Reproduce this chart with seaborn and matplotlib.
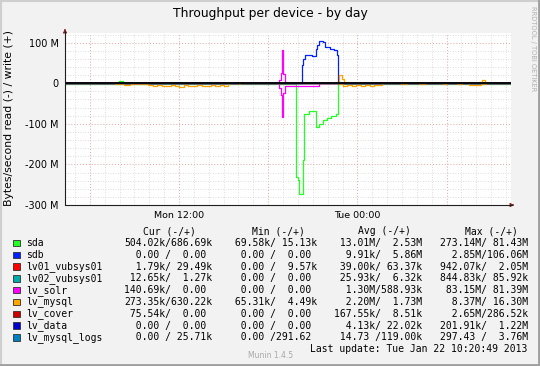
import numpy as np
import pandas as pd
import matplotlib
matplotlib.use("Agg")
import matplotlib.pyplot as plt
import seaborn as sns
from matplotlib.lines import Line2D
from matplotlib.patches import Rectangle

sns.set_theme(style="white")
plt.rcParams["font.family"] = ["DejaVu Sans"]

W, H = 540, 366

TITLE = "Throughput per device - by day"
YLABEL = "Bytes/second read (-) / write (+)"
XTICK_HOURS = [1.667, 7.667, 13.667, 19.667, 25.667]
XTICK_LABELS = ["", "Mon 12:00", "", "Tue 00:00", ""]
YTICKS = [100, 0, -100, -200, -300]
YTICK_LABELS = ["100 M", "0", "-100 M", "-200 M", "-300 M"]

names = ["sda", "sdb", "lv01_vubsys01", "lv02_vubsys01", "lv_solr",
         "lv_mysql", "lv_cover", "lv_data", "lv_mysql_logs"]
colors = ["#22ff22", "#0022ff", "#ff0000", "#00aaaa", "#ff00ff",
          "#ffa500", "#cc0000", "#0000cc", "#0080c0"]

# breakpoints: hours since Mon 04:20, values in MB/s (read negative, write positive)
sda_read_t = [0, 15.55, 15.68, 15.77, 15.99, 16.06, 16.44, 16.89, 17.07, 17.34, 17.6, 17.9, 18.23, 18.34, 30]
sda_read_v = [-1.2, -231, -238, -273, -190, -75, -68, -108, -100, -90, -86, -80, -76, -1.2, -1.2]
sda_write_t = [0, 3.6, 3.9, 30]
sda_write_v = [-0.6, 6, -0.6, -0.6]
sdb_read_t = [0, 30]
sdb_read_v = [0, 0]
sdb_write_t = [0, 15.95, 16.02, 16.17, 16.6, 16.89, 16.95, 17.11, 17.34, 17.5, 17.8, 18.1, 18.27, 18.37, 30]
sdb_write_v = [0, 45, 60, 69, 66, 84, 95, 105, 101, 90, 85, 81, 70, 0, 0]
lv01_t = [0, 30]
lv01_v = [0, 0]
lv02_t = [0, 30]
lv02_v = [0, 0]
solr_write_t = [0, 14.4, 14.5, 14.6, 14.68, 14.8, 30]
solr_write_v = [0, 8, 25, 81, 22, 0, 0]
solr_read_t = [0, 14.4, 14.5, 14.6, 14.68, 14.8, 17.1, 30]
solr_read_v = [0, -12, -30, -83, -25, -6, 0, 0]
mysql_read_t = [0, 3.35, 3.7, 4.0, 4.4, 4.8, 5.2, 5.55, 5.9, 6.2, 6.5, 6.8, 7.1, 7.4, 7.7,
                8.0, 8.3, 8.6, 8.9, 9.2, 9.5, 9.8, 10.1, 10.4, 10.7, 10.95, 11.7, 11.8,
                18.4, 18.7, 19.0, 19.3, 19.6, 19.9, 20.2, 20.5, 20.8, 21.1, 21.35, 22.6,
                23.0, 23.8, 24.2, 25.4, 25.7, 26.4, 26.7, 27.2, 27.6, 28.0, 28.3, 30]
mysql_read_v = [-0.3, -3, -2, -4, -2.5, -3, -2, -5, -7, -4, -6, -8, -5, -6, -9,
                -5, -7, -6, -4, -8, -6, -5, -7, -4, -6, -0.3, -3, -0.3,
                -2, -6, -4, -7, -5, -6, -4, -7, -5, -4, -0.5, -3,
                -0.5, -3, -0.5, -3, -0.5, -3, -0.5, -4, -5, -3, -0.5, -0.5]
mysql_write_t = [0, 18.45, 18.6, 18.75, 18.9, 27.9, 28.05, 28.25, 30]
mysql_write_v = [0.3, 20, 10, 4, 0.3, 4, 8, 0.3, 0.3]
cover_t = [0, 30]
cover_v = [0, 0]
data_t = [0, 30]
data_v = [0, 0]
logs_t = [0, 30]
logs_v = [0, 0]

legend_cur = ["504.02k/686.69k", "  0.00 /  0.00 ", "  1.79k/ 29.49k", " 12.65k/  1.27k",
              "140.69k/  0.00 ", "273.35k/630.22k", " 75.54k/  0.00 ", "  0.00 /  0.00 ",
              "  0.00 / 25.71k"]
legend_min = [" 69.58k/ 15.13k", "  0.00 /  0.00 ", "  0.00 /  9.57k", "  0.00 /  0.00 ",
              "  0.00 /  0.00 ", " 65.31k/  4.49k", "  0.00 /  0.00 ", "  0.00 /  0.00 ",
              "  0.00 /291.62 "]
legend_avg = [" 13.01M/  2.53M", "  9.91k/  5.86M", " 39.00k/ 63.37k", " 25.93k/  6.32k",
              "  1.30M/588.93k", "  2.20M/  1.73M", "167.55k/  8.51k", "  4.13k/ 22.02k",
              " 14.73 /119.00k"]
legend_max = ["273.14M/ 81.43M", "  2.85M/106.06M", "942.07k/  2.05M", "844.83k/ 85.92k",
              " 83.15M/ 81.39M", "  8.37M/ 16.30M", "  2.65M/286.52k", "201.91k/  1.22M",
              "297.43 /  3.76M"]
headers = ["Cur (-/+)", "Min (-/+)", "Avg (-/+)", "Max (-/+)"]
LAST_UPDATE = "Last update: Tue Jan 22 10:20:49 2013"

# ---- build long data frame ----
series = [
    ("sda", "r", sda_read_t, sda_read_v), ("sda", "w", sda_write_t, sda_write_v),
    ("sdb", "r", sdb_read_t, sdb_read_v), ("sdb", "w", sdb_write_t, sdb_write_v),
    ("lv01_vubsys01", "r", lv01_t, lv01_v), ("lv02_vubsys01", "r", lv02_t, lv02_v),
    ("lv_solr", "r", solr_read_t, solr_read_v), ("lv_solr", "w", solr_write_t, solr_write_v),
    ("lv_mysql", "r", mysql_read_t, mysql_read_v), ("lv_mysql", "w", mysql_write_t, mysql_write_v),
    ("lv_cover", "r", cover_t, cover_v), ("lv_data", "r", data_t, data_v),
    ("lv_mysql_logs", "r", logs_t, logs_v),
]
rows = []
keys = []
pal = {}
cmap = dict(zip(names, colors))
for nm, part, ts, vs in series:
    assert len(ts) == len(vs), nm
    key = nm + "_" + part
    keys.append(key)
    pal[key] = cmap[nm]
    for t, v in zip(ts, vs):
        rows.append((t, v, key))
df = pd.DataFrame(rows, columns=["hours", "value", "key"])

fig = plt.figure(figsize=(W / 100, H / 100), dpi=100, facecolor="#f2f2f2")

def px(x, y):
    return x / W, 1 - y / H

L, R, T, B = 65, 511, 32.5, 205
ax = fig.add_axes([L / W, 1 - B / H, (R - L) / W, (B - T) / H])
ax.set_facecolor("white")

sns.lineplot(data=df, x="hours", y="value", hue="key", hue_order=keys, palette=pal,
             drawstyle="steps-post", estimator=None, sort=False, legend=False,
             linewidth=0.9, ax=ax)
ax.axhline(0, color="black", lw=1.3, zorder=3)

ax.set_xlim(0, 30)
ax.set_ylim(-300, 125)
ax.set_xticks(XTICK_HOURS)
ax.set_xticklabels(XTICK_LABELS)
ax.set_xticks([0.667 + k for k in range(30)], minor=True)
ax.set_yticks(YTICKS)
ax.set_yticklabels(YTICK_LABELS)
ax.set_yticks(list(range(-300, 121, 20)), minor=True)
ax.grid(which="minor", ls=(0, (1, 2)), color="#d2d2d2", lw=0.6)
ax.grid(which="major", ls=(0, (1, 2)), color="#e2a4a4", lw=0.7)
ax.tick_params(axis="both", which="both", length=0, colors="black")
ax.tick_params(axis="y", labelsize=7, pad=4.5)
ax.tick_params(axis="x", labelsize=6.8, pad=4)
ax.set_xlabel("")
ax.set_ylabel("")
for s in ax.spines.values():
    s.set_visible(False)

# axes with arrows
axis_col = "#1f1f1f"
fig.add_artist(Line2D([L / W, 512 / W], [1 - B / H, 1 - B / H], color=axis_col, lw=0.8))
fig.add_artist(Line2D([L / W, L / W], [1 - B / H, 1 - 31 / H], color=axis_col, lw=0.8))
ax.annotate("", xy=(517 / W, 1 - B / H), xytext=(510 / W, 1 - B / H), xycoords="figure fraction",
            textcoords="figure fraction",
            arrowprops=dict(arrowstyle="-|>", color="#801f1f", lw=0.6, mutation_scale=6))
ax.annotate("", xy=(L / W, 1 - 26 / H), xytext=(L / W, 1 - 33 / H), xycoords="figure fraction",
            textcoords="figure fraction",
            arrowprops=dict(arrowstyle="-|>", color="#801f1f", lw=0.6, mutation_scale=6))

# title and labels
fig.text(*px(270, 14), TITLE, ha="center", va="center", fontsize=8.9, color="black")
fig.text(*px(9, 118), YLABEL, ha="center", va="center", rotation=90, fontsize=7.8, color="black")
fig.text(*px(533, 6), "RRDTOOL / TOBI OETIKER", ha="center", va="top", rotation=270,
         fontsize=4.8, color="#b0b0b0")

# legend table
mono = dict(family="DejaVu Sans Mono", fontsize=7, color="black")
col_x = [124, 229, 334, 440]
hdr_x = [169, 278, 384, 491]
for hx, h in zip(hdr_x, headers):
    fig.text(*px(hx, 231), h, ha="center", va="center", **mono)
row_y0, dy = 243, 11.8
cols = [legend_cur, legend_min, legend_avg, legend_max]
for i, nm in enumerate(names):
    y = row_y0 + i * dy
    fig.add_artist(Rectangle(px(13, y + 3.2), 6.5 / W, 6.5 / H, transform=fig.transFigure,
                             facecolor=colors[i], edgecolor="#303030", lw=0.6))
    fig.text(*px(26, y), nm, ha="left", va="center", **mono)
    for cx, col in zip(col_x, cols):
        fig.text(*px(cx, y), col[i], ha="left", va="center", **mono)
fig.text(*px(527, 349.5), LAST_UPDATE, ha="right", va="center", **mono)
fig.text(*px(271, 356), "Munin 1.4.5", ha="center", va="center", fontsize=5.5, color="#a8a8a8")

# 3D border (rrdtool shade A / shade B)
fig.add_artist(Line2D([0, 1], [1 - 1 / H, 1 - 1 / H], color="#cfcfcf", lw=1.5))
fig.add_artist(Line2D([1 / W, 1 / W], [0, 1], color="#cfcfcf", lw=1.5))
fig.add_artist(Line2D([0, 1], [1.5 / H, 1.5 / H], color="#9e9e9e", lw=2))
fig.add_artist(Line2D([1 - 1.5 / W, 1 - 1.5 / W], [0, 1], color="#9e9e9e", lw=2))

fig.savefig("out.png", dpi=100, facecolor=fig.get_facecolor())
